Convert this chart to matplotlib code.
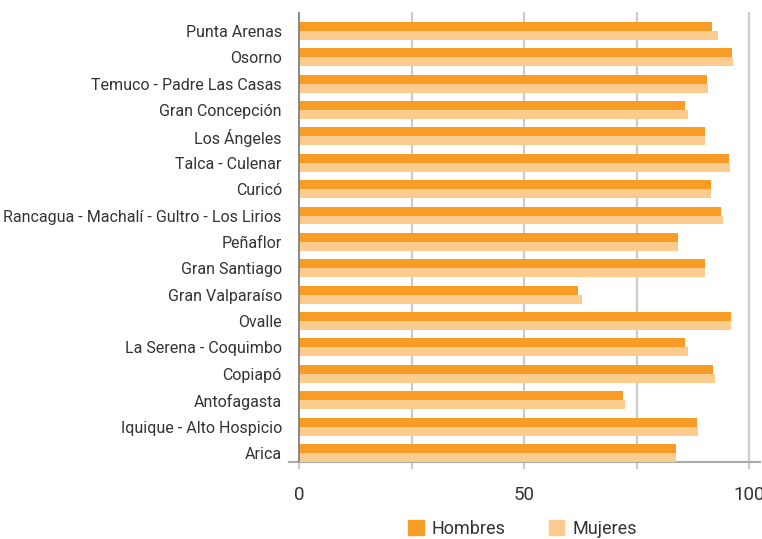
import numpy as np
import matplotlib.pyplot as plt
from matplotlib.patches import Patch

plt.rcParams['font.family'] = ['Roboto', 'DejaVu Sans']

# datos (de abajo hacia arriba)
ciudades = ['Arica', 'Iquique - Alto Hospicio', 'Antofagasta', 'Copiapó',
            'La Serena - Coquimbo', 'Ovalle', 'Gran Valparaíso', 'Gran Santiago',
            'Peñaflor', 'Rancagua - Machalí - Gultro - Los Lirios', 'Curicó',
            'Talca - Culenar', 'Los Ángeles', 'Gran Concepción',
            'Temuco - Padre Las Casas', 'Osorno', 'Punta Arenas']
hombres = [83.8, 88.5, 72.1, 92.1, 85.8, 96.1, 62.0, 90.3, 84.3, 93.8, 91.6,
           95.6, 90.3, 85.8, 90.7, 96.3, 91.8]
mujeres = [83.8, 88.7, 72.5, 92.5, 86.5, 96.1, 62.9, 90.3, 84.3, 94.3, 91.6,
           95.8, 90.3, 86.5, 91.0, 96.5, 93.2]

c_h = '#F89C26'
c_m = '#FCCB8E'

fig = plt.figure(figsize=(7.62, 5.39), dpi=100)
ax = fig.add_axes([0.379, 0.143, 0.618, 0.835])

y = np.arange(len(ciudades))
h = 0.34
ax.barh(y + h / 2, hombres, height=h, color=c_h, zorder=3)
ax.barh(y - h / 2, mujeres, height=h, color=c_m, zorder=3)

ax.set_xlim(-2.33, 102.4)
ax.set_ylim(-0.34, 16.72)

# rejilla vertical
for v in [25, 50, 75, 100]:
    ax.axvline(v, color='#cccccc', lw=1.6, zorder=1)
ax.axvline(0, color='#808080', lw=1.3, zorder=4)

ax.set_yticks(y)
ax.set_yticklabels(ciudades, fontsize=11.5, color='#333333')
ax.tick_params(axis='y', length=0, pad=5)

ax.set_xticks([0, 25, 50, 75, 100])
ax.set_xticklabels(['0', '', '50', '', '100'], fontsize=13.5, color='#333333')
ax.tick_params(axis='x', length=5, width=1.5, color='#cccccc', pad=12)

for s in ['top', 'right', 'left']:
    ax.spines[s].set_visible(False)
ax.spines['bottom'].set_color('#aaaaaa')
ax.spines['bottom'].set_linewidth(1.5)

handles = [Patch(color=c_h, label='Hombres'), Patch(color=c_m, label='Mujeres')]
fig.legend(handles=handles, loc='upper center', bbox_to_anchor=(0.686, 0.036),
           ncol=2, frameon=False, fontsize=13, handlelength=0.85, handleheight=0.85,
           columnspacing=2.4, handletextpad=0.45, labelcolor='#333333',
           borderaxespad=0, borderpad=0)

fig.savefig('out.png', dpi=100)
